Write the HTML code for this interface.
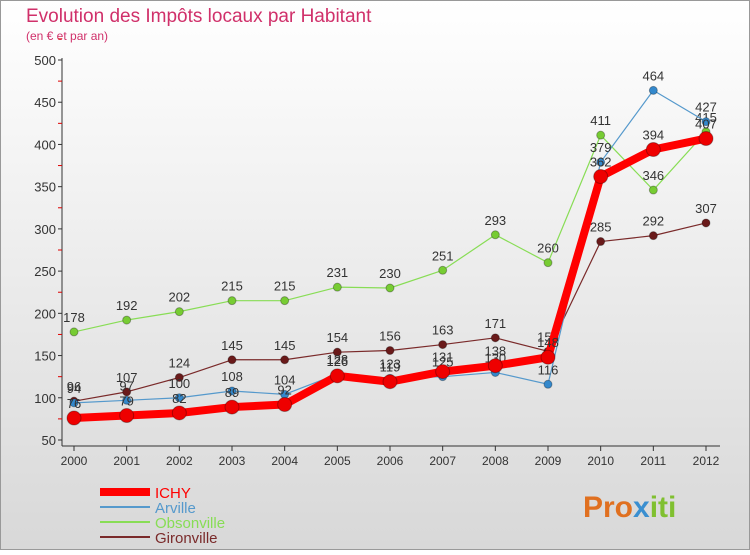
<!DOCTYPE html>
<html><head><meta charset="utf-8"><style>
body{margin:0;width:750px;height:550px;overflow:hidden;font-family:"Liberation Sans",sans-serif}
svg text{font-family:"Liberation Sans",sans-serif}
</style></head><body>
<svg id="c" width="750" height="550" xmlns="http://www.w3.org/2000/svg">
<defs><linearGradient id="bg" x1="0" y1="0" x2="0" y2="1"><stop offset="0" stop-color="#ffffff"/><stop offset="1" stop-color="#d8d8d8"/></linearGradient></defs>
<rect x="0.5" y="0.5" width="749" height="549" fill="url(#bg)" stroke="#999"/>
<text x="26" y="22" font-size="19" fill="#d0306a">Evolution des Impôts locaux par Habitant</text>
<text x="26" y="40" font-size="12" fill="#d0306a">(en € et par an)</text>
<g id="axes"></g><g id="series"></g><g id="legend"></g>
<text x="583" y="517" font-size="30" font-weight="bold" fill="#e07020">Pro<tspan fill="#3a8fd0">x</tspan><tspan fill="#80c030">iti</tspan></text>
</svg>
<script>
const years=[2000,2001,2002,2003,2004,2005,2006,2007,2008,2009,2010,2011,2012];
const yTicks=[50,100,150,200,250,300,350,400,450,500];
const ichy=[76,79,82,89,92,126,119,131,138,148,362,394,407];
const arville=[94,97,100,108,104,128,123,125,130,116,379,464,427];
const obsonville=[178,192,202,215,215,231,230,251,293,260,411,346,415];
const gironville=[96,107,124,145,145,154,156,163,171,155,285,292,307];
const NS='http://www.w3.org/2000/svg';
const X=i=>74+i*(632/12), Y=v=>440-(v-50)*(380/450);
function el(t,a,p){const e=document.createElementNS(NS,t);for(const k in a)e.setAttribute(k,a[k]);p.appendChild(e);return e;}
const ax=document.getElementById('axes');
const yl=el('line',{x1:62,y1:58,x2:62,y2:446,stroke:'#333'},ax);


const xl=el('line',{x1:62,y1:446,x2:720,y2:446,stroke:'#333'},ax);


yTicks.forEach(v=>{
  const t=el('text',{x:56,y:Y(v)+5,'font-size':13,'text-anchor':'end',fill:'#333'},ax);t.textContent=v;
  
  
  el('line',{x1:58,y1:Y(v),x2:62,y2:Y(v),stroke:'#333'},ax);
  el('line',{x1:58,y1:Y(v+25),x2:62,y2:Y(v+25),stroke:'#d00'},ax);
});
years.forEach((y,i)=>{
  const t=el('text',{x:X(i),y:465,'font-size':12,'text-anchor':'middle',fill:'#333'},ax);t.textContent=y;
  
  
  el('line',{x1:X(i),y1:446,x2:X(i),y2:451,stroke:'#333'},ax);
});
const sg=document.getElementById('series');
function draw(data,color,dot,w,r,name){
  const g=el('g',{},sg);
  
  
  const p=el('polyline',{points:data.map((v,i)=>X(i)+','+Y(v)).join(' '),fill:'none',stroke:color,'stroke-width':w,'stroke-linejoin':'round'},g);
  
  
  data.forEach((v,i)=>{
    const c=el('circle',{cx:X(i),cy:Y(v),r:r,fill:dot,stroke:'rgba(0,0,0,0.3)'},g);
    
    
    const t=el('text',{x:X(i),y:Y(v)-10,'font-size':13,'text-anchor':'middle',fill:'#333'},g);t.textContent=v;
    
    
  });
}
draw(gironville,'#7a2a2a','#6a1a1a',1.2,4,'gironville');
draw(obsonville,'#88dd55','#77cc33',1.2,4,'obsonville');
draw(arville,'#5599cc','#3388cc',1.2,4,'arville');
draw(ichy,'#ff0000','#ee0000',8,7,'ichy');
const lg=document.getElementById('legend');
[['ICHY','#ff0000',8],['Arville','#5599cc',2],['Obsonville','#88dd55',2],['Gironville','#7a2a2a',2]].forEach((s,i)=>{
  const y=492+i*15;
  el('line',{x1:100,y1:y,x2:150,y2:y,stroke:s[1],'stroke-width':s[2]},lg);
  const t=el('text',{x:155,y:y+6,'font-size':15,fill:s[1]},lg);t.textContent=s[0];
  
  
});
</script>
</body></html>
